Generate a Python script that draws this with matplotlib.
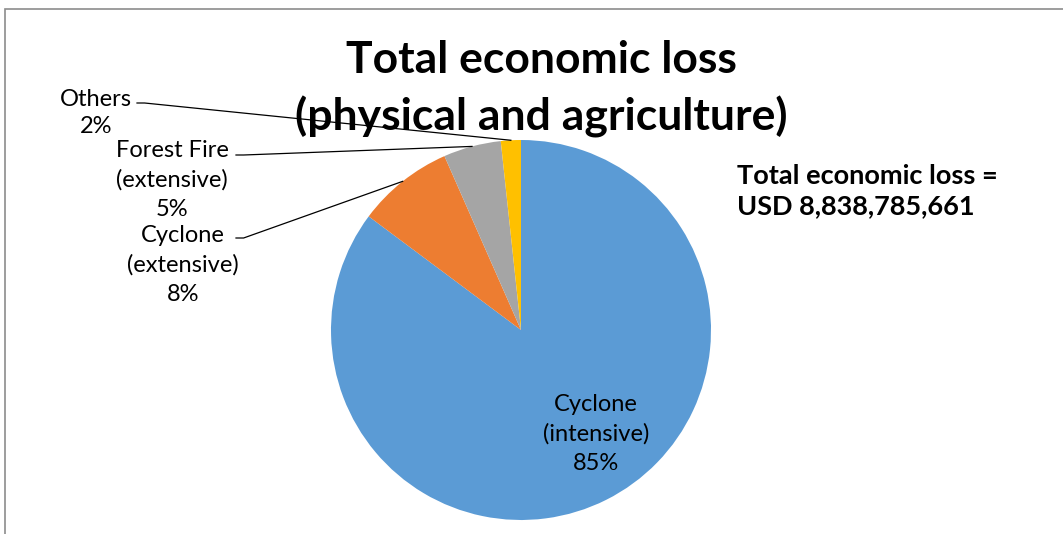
import matplotlib.pyplot as plt
import numpy as np
from matplotlib.patches import Rectangle

# Share of total economic loss (%)
categories = ['Cyclone\n(intensive)', 'Cyclone\n(extensive)', 'Forest Fire\n(extensive)', 'Others']
values = [85.2, 8.2, 4.9, 1.7]
colors = ['#5B9BD5', '#ED7D31', '#A5A5A5', '#FFC000']
total_text = 'Total economic loss =\nUSD 8,838,785,661'

plt.rcParams['font.family'] = ['Lato', 'DejaVu Sans']

W, H = 1063, 534
fig = plt.figure(figsize=(W / 100, H / 100), dpi=100)

# outer chart frame
fig.patches.append(Rectangle((5 / W, -0.05), 1.1, 1 - 9 / H + 0.05, transform=fig.transFigure,
                             fill=False, edgecolor='#8c8c8c', linewidth=1.2))

cx, cy, r = 521, 330, 190
ax = fig.add_axes([(cx - r) / W, (H - cy - r) / H, 2 * r / W, 2 * r / H])
wedges, _ = ax.pie(values, colors=colors, startangle=90, counterclock=False,
                   radius=1, wedgeprops=dict(linewidth=0))
ax.set_xlim(-1, 1)
ax.set_ylim(-1, 1)
ax.set_aspect('equal')
ax.axis('off')

tot = sum(values)
pct = [f'{round(v / tot * 100)}%' for v in values]

def px(x, y):
    return (x - cx) / r, (cy - y) / r

# label for the big slice, inside
ax.text(*px(596, 434), categories[0] + '\n' + pct[0], ha='center', va='center',
        fontsize=17, linespacing=1.5, color='#000000')

# outside labels with leader lines: (text centre, line start)
outside = {
    1: ((183, 265), (236, 238)),
    2: ((172, 180), (236, 155)),
    3: ((96, 113), (137, 103)),
}
for i, (tpos, lstart) in outside.items():
    ax.text(*px(*tpos), categories[i] + '\n' + pct[i], ha='center', va='center',
            fontsize=17, linespacing=1.5 if i != 3 else 1.4, color='#000000')
    w = wedges[i]
    mid = np.deg2rad((w.theta1 + w.theta2) / 2)
    x0, y0 = px(*lstart)
    ax.plot([x0, x0 + 0.04, np.cos(mid)], [y0, y0, np.sin(mid)], color='black',
            linewidth=0.9, clip_on=False)

fig.text(541 / W, 1 - 89 / H, 'Total economic loss\n(physical and agriculture)', ha='center',
         va='center', fontsize=32, fontweight='bold', linespacing=1.45)
fig.text(737 / W, 1 - 191 / H, total_text, ha='left', va='center', fontsize=19.5,
         fontweight='bold', linespacing=1.3)

fig.savefig('out.png', dpi=100)
